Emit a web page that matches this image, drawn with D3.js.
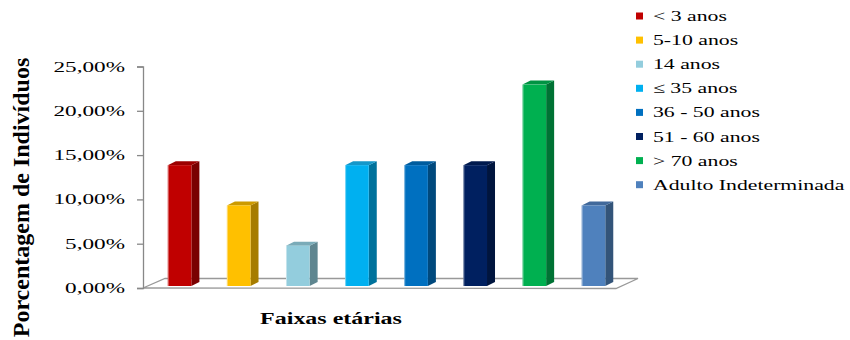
<!DOCTYPE html>
<html>
<head>
<meta charset="utf-8">
<script src="https://cdn.jsdelivr.net/npm/d3@7"></script>
<style>
  html, body { margin: 0; padding: 0; background: #ffffff; }
  svg { display: block; }
  text { font-family: "Liberation Serif", "Times New Roman", serif; fill: #000; }
</style>
</head>
<body>
<div id="chart"></div>
<script>
// Age groups and share of individuals (%)
const categories = ["< 3 anos", "5-10 anos", "14 anos", "\u2264 35 anos", "36 - 50 anos", "51 - 60 anos", "> 70 anos", "Adulto Indeterminada"];
const values = [13.64, 9.09, 4.55, 13.64, 13.64, 13.64, 22.73, 9.09];
const tickValues = [0, 5, 10, 15, 20, 25];
const tickLabels = ["0,00%", "5,00%", "10,00%", "15,00%", "20,00%", "25,00%"];
const frontColors = ["#C00000", "#FFC000", "#93CDDD", "#00B0F0", "#0070C0", "#002060", "#00B050", "#4F81BD"];
const sideColors  = ["#7A0000", "#A67C00", "#5F8690", "#00729C", "#00497D", "#00153E", "#007234", "#335479"];
const topColors   = ["#9C0000", "#CC9A00", "#7AABB8", "#1597C9", "#005C9E", "#001A4E", "#009343", "#41699B"];

const W = 850, H = 340;
const svg = d3.select("#chart").append("svg").attr("width", W).attr("height", H);

const x0 = 143, x1 = 616;      // front edge of the floor
const depth = { dx: 22, dy: -9.5 }; // floor depth projection
const bar3d = { dx: 8, dy: -4 };    // column depth projection

const y = d3.scaleLinear().domain([0, 25]).range([288, 66.5]);
const x = d3.scaleBand().domain(categories).range([x0, x1]).paddingInner(0.6).paddingOuter(0.3);

// Floor outline
const floor = svg.append("g").attr("stroke", "#999").attr("stroke-width", 1.3).attr("fill", "none");
floor.append("path").attr("d", d3.line()([
  [x0, y(0)], [x0 + depth.dx, y(0) + depth.dy], [x1 + depth.dx, y(0) + depth.dy], [x1, y(0) + 0.5], [x0, y(0)]
]));

// Vertical axis
const axis = svg.append("g").attr("transform", `translate(${x0},0)`)
  .call(d3.axisLeft(y).tickValues(tickValues).tickSize(6).tickFormat(""));
axis.select(".domain").attr("stroke", "#888").attr("stroke-width", 1.3);
axis.selectAll(".tick line").attr("stroke", "#888").attr("stroke-width", 1.3);

// Tick labels, set in a wide serif
svg.append("g").selectAll("text").data(tickValues).join("text")
  .attr("transform", d => `translate(125,${y(d) + 5}) scale(1.6,1)`)
  .attr("text-anchor", "end")
  .style("font-size", "14.5px")
  .text((d, i) => tickLabels[i]);

// 3D columns
const bars = svg.append("g").attr("transform", "translate(7,-2)");
const bw = x.bandwidth();
const col = bars.selectAll("g.col").data(categories).join("g").attr("class", "col");
col.append("path") // side face
  .attr("fill", (d, i) => sideColors[i])
  .attr("d", (d, i) => {
    const xl = x(d) + bw, yt = y(values[i]), yb = y(0);
    return d3.line()([[xl, yt], [xl + bar3d.dx, yt + bar3d.dy], [xl + bar3d.dx, yb + bar3d.dy], [xl, yb]]) + "Z";
  });
col.append("path") // top face
  .attr("fill", (d, i) => topColors[i])
  .attr("d", (d, i) => {
    const xl = x(d), yt = y(values[i]);
    return d3.line()([[xl, yt], [xl + bar3d.dx, yt + bar3d.dy], [xl + bw + bar3d.dx, yt + bar3d.dy], [xl + bw, yt]]) + "Z";
  });
col.append("rect") // front face
  .attr("x", d => x(d))
  .attr("y", (d, i) => y(values[i]))
  .attr("width", bw)
  .attr("height", (d, i) => y(0) - y(values[i]))
  .attr("fill", (d, i) => frontColors[i]);
col.append("line") // light left edge
  .attr("x1", d => x(d) + 0.5).attr("x2", d => x(d) + 0.5)
  .attr("y1", (d, i) => y(values[i])).attr("y2", y(0))
  .attr("stroke", "#fff").attr("stroke-opacity", 0.45).attr("stroke-width", 1);

// Axis titles
svg.append("text")
  .attr("transform", "translate(29,197.5) rotate(-90)")
  .attr("text-anchor", "middle")
  .style("font-size", "24px").style("font-weight", "bold")
  .text("Porcentagem de Indivíduos");

svg.append("text")
  .attr("transform", "translate(331,324) scale(1.5,1)")
  .attr("text-anchor", "middle")
  .style("font-size", "16px").style("font-weight", "bold")
  .text("Faixas etárias");

// Legend
const legend = svg.append("g").selectAll("g").data(categories).join("g")
  .attr("transform", (d, i) => `translate(636,${16 + i * 24.1})`);
legend.append("rect").attr("x", 0).attr("y", -3.5).attr("width", 7).attr("height", 7)
  .attr("fill", (d, i) => frontColors[i]);
legend.append("text")
  .attr("transform", "translate(17,5) scale(1.45,1)")
  .style("font-size", "15px")
  .text(d => d);
</script>
</body>
</html>
